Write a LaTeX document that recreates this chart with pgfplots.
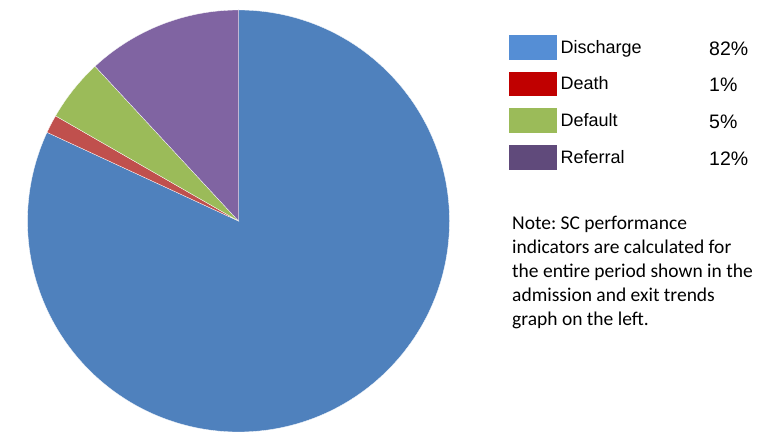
\documentclass[border=0pt]{standalone}
\usepackage{fontspec}
\setmainfont{Liberation Sans}
\newfontfamily\notefont{Carlito}
\usepackage{pgfplots}
\usepackage{pgfplotstable}
\pgfplotsset{compat=1.18}
\frenchspacing

\definecolor{pieblue}{HTML}{4F81BD}
\definecolor{piered}{HTML}{C0504D}
\definecolor{piegreen}{HTML}{9BBB59}
\definecolor{piepurple}{HTML}{8064A2}
\definecolor{keyblue}{HTML}{558ED5}
\definecolor{keyred}{HTML}{C00000}
\definecolor{keygreen}{HTML}{9BBB59}
\definecolor{keypurple}{HTML}{604A7B}

% exit outcomes, share in percent (clockwise from 12 o'clock)
\pgfplotstableread[col sep=comma,row sep=\\]{
label,value,slice,key\\
Discharge,81.9,pieblue,keyblue\\
Death,1.4,piered,keyred\\
Default,4.8,piegreen,keygreen\\
Referral,11.9,piepurple,keypurple\\
}\pietable

\begin{document}
\begin{tikzpicture}
\begin{axis}[
    hide axis,
    scale only axis,
    width=765bp, height=438bp,
    xmin=0, xmax=765, ymin=0, ymax=438,
    clip=false,
]
\pgfplotsextra{
  \path (axis cs:0,0) rectangle (axis cs:765,438);
  \gdef\startang{90}
  \foreach \i in {0,...,3}{
    \pgfplotstablegetelem{\i}{value}\of\pietable \let\val\pgfplotsretval
    \pgfplotstablegetelem{\i}{slice}\of\pietable \let\scol\pgfplotsretval
    \pgfplotstablegetelem{\i}{key}\of\pietable \let\kcol\pgfplotsretval
    \pgfplotstablegetelem{\i}{label}\of\pietable \let\lab\pgfplotsretval
    \pgfmathsetmacro\endang{\startang-3.6*\val}
    \filldraw[fill=\scol, draw=white, line width=0.3bp]
      (axis cs:238.5,217) -- ++(\startang:211bp)
      arc[start angle=\startang, end angle=\endang, radius=211bp] -- cycle;
    \xdef\startang{\endang}
    % legend row
    \pgfmathsetmacro\ky{384.7-36.7*\i}
    \fill[\kcol] (axis cs:509,\ky-6.4) rectangle (axis cs:557,\ky+18.3);
    \node[anchor=base west, inner sep=0pt, font=\fontsize{18bp}{20bp}\selectfont]
      at (axis cs:560.5,\ky) {\lab};
    \node[anchor=base west, inner sep=0pt, font=\fontsize{19.5bp}{21bp}\selectfont]
      at (axis cs:709,\ky-1.8)
      {\pgfmathprintnumber[fixed,precision=0,assume math mode=true]{\val}\%};
  }
  \foreach \txt [count=\n from 0] in {Note: SC performance,
      indicators are calculated for, the entire period shown in the,
      admission and exit trends, graph on the left.}{
    \node[anchor=base west, inner sep=0pt,
          font=\notefont\fontsize{19.5bp}{24bp}\selectfont]
      at (axis cs:512,208-24*\n) {\txt};
  }
}
\end{axis}
\end{tikzpicture}
\end{document}
